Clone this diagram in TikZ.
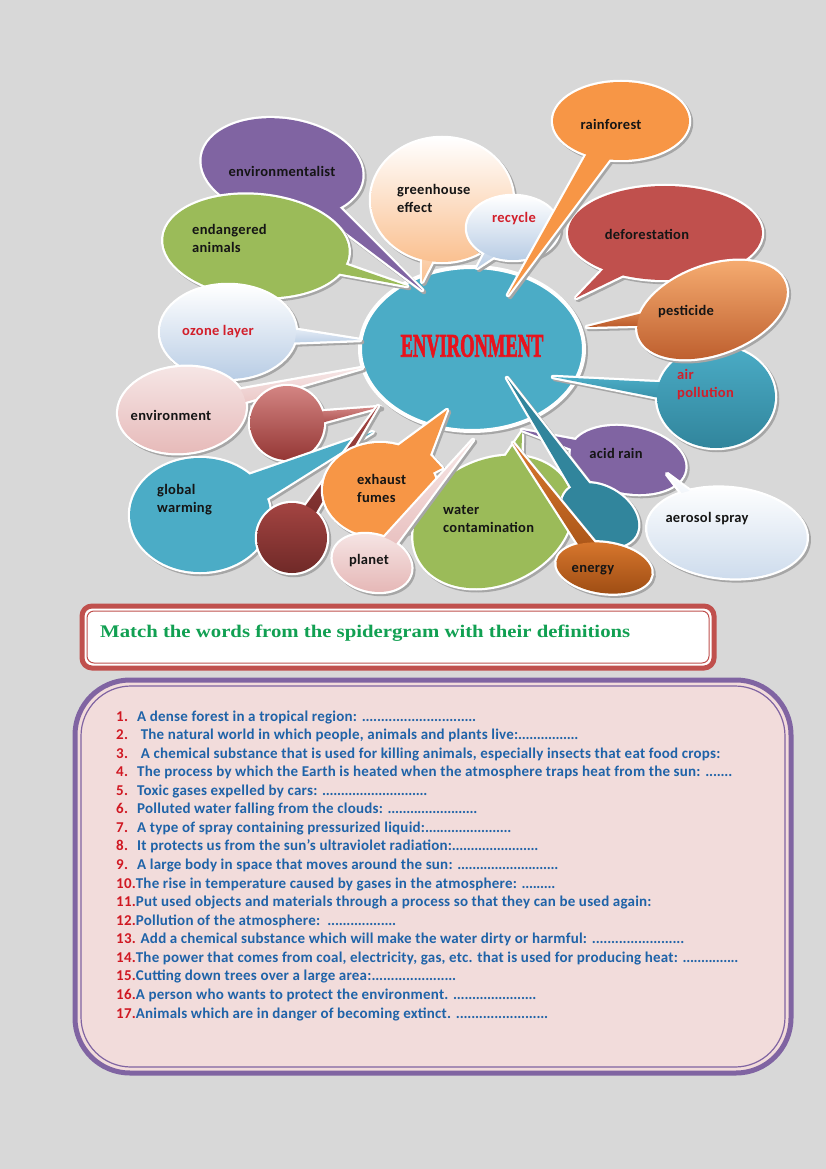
\documentclass[tikz,border=0pt]{standalone}
\usepackage{fontspec}
\usepackage{graphicx}
\setmainfont{Carlito}
\newfontfamily\itemfnt{Carlito}[LetterSpace=1.5]
\newfontfamily\labfnt{Carlito}[LetterSpace=2]
\newfontfamily\serfnt{Liberation Serif}
\newfontfamily\envfnt{Liberation Serif}[FakeBold=2.5]
\usetikzlibrary{calc}
\definecolor{bg}{HTML}{D8D8D8}
\definecolor{purp}{HTML}{8064A2}
\definecolor{grn}{HTML}{9BBB59}
\definecolor{org}{HTML}{F79646}
\definecolor{redb}{HTML}{C0504D}
\definecolor{teal}{HTML}{4BACC6}
\definecolor{dteal}{HTML}{31859C}
\definecolor{peach}{HTML}{FAC090}
\definecolor{lblue}{HTML}{B9CDE5}
\definecolor{pinkb}{HTML}{E6B9B8}
\definecolor{dred}{HTML}{953735}
\definecolor{brownl}{HTML}{D9782E}
\definecolor{brownd}{HTML}{A04E14}
\definecolor{labblk}{HTML}{151515}
\definecolor{labred}{HTML}{D21E2A}
\definecolor{envred}{HTML}{E8121C}
\definecolor{itemblue}{HTML}{1F63A8}
\definecolor{numred}{HTML}{D01822}
\definecolor{titgreen}{HTML}{11A052}
\definecolor{boxpink}{HTML}{F2DCDB}
\tikzset{
  bubout/.style={fill=white,draw=white,line width=4.5pt,line join=round},
  bubshad/.style={fill=black!35,draw=black!35,line width=4.5pt,line join=round},
  lab/.style={font=\fontsize{14.5}{18}\labfnt\bfseries,text=labblk,inner sep=0pt,align=left},
  labr/.style={lab,text=labred},
  item/.style={anchor=base west,inner sep=0pt,font=\fontsize{15}{18}\itemfnt\bfseries,text=itemblue},
}
\newcommand\bubgen[6]{%
  \begin{scope}[shift={(2,2)}]
    \path[bubshad] #6;
    \path[bubshad,rotate around={#5:(#2)}] (#2) ellipse [x radius=#3pt,y radius=#4pt];
  \end{scope}
  \path[bubout] #6;
  \path[bubout,rotate around={#5:(#2)}] (#2) ellipse [x radius=#3pt,y radius=#4pt];
  \path[#1] #6;
  \path[#1,rotate around={#5:(#2)}] (#2) ellipse [x radius=#3pt,y radius=#4pt];
}
\newcommand\bubble[7]{\bubgen{#1}{#2}{#3}{#4}{#5}{($(#2)!#7!90:(#6)$) -- (#6) -- ($(#2)!#7!-90:(#6)$) -- cycle}}
\newcommand\dts{\xleaders\hbox to 3.7pt{\hss.\hss}\hfill}
\newcommand\num[1]{\textcolor{numred}{#1}}
\begin{document}
\begin{tikzpicture}[x=1pt,y=-1pt]
\useasboundingbox (0,0) rectangle (826,1169);
\fill[bg] (0,0) rectangle (826,1169);

% central ellipse
\fill[black!35] (474,351) ellipse [x radius=114pt,y radius=84pt];
\path[fill=teal,draw=white,line width=4pt] (472,349) ellipse [x radius=112pt,y radius=82pt];

% bubbles, back to front
\bubble{fill=purp}{282,168}{81}{49}{-8}{422,290}{13pt}
\bubble{fill=grn}{256,246}{93}{51}{-5}{407,286}{12pt}
\bubble{top color=white,bottom color=lblue}{228,332}{68}{47}{0}{360,340}{13pt}
\bubble{top color=pinkb!35!white,bottom color=pinkb}{182,410}{64}{43}{5}{362,368}{10pt}
\bubble{top color=redb!70!white,bottom color=dred}{287,423}{37}{37}{0}{380,407}{9pt}
\bubble{fill=teal}{200,515}{70}{57}{0}{373,432}{22pt}
\bubble{top color=redb!85!black,bottom color=dred!75!black}{292,538}{35}{35}{0}{378,406}{8pt}
\bubgen{fill=org}{380,490}{57}{47}{0}{(350,450) -- (398,446) -- (447,410) -- (430,455) -- (442,468) -- (415,482) -- cycle}
\bubble{fill=grn}{493,522}{83}{62}{25}{522,432}{28pt}
\bubble{top color=pinkb!35!white,bottom color=pinkb}{372,563}{40}{28}{-15}{473,440}{8pt}
\bubble{top color=white,bottom color=peach}{442,200}{71}{62}{0}{422,282}{20pt}
\bubble{top color=white,bottom color=lblue}{513,228}{46}{32}{0}{477,268}{14pt}
\bubble{fill=redb}{665,233}{97}{47}{0}{576,298}{20pt}
\bubble{fill=org}{621,121}{68}{39}{0}{508,295}{14pt}
\bubble{top color=teal,bottom color=dteal}{716,397}{59}{51}{0}{553,377}{12pt}
\bubble{top color=org!75!white,bottom color=org!80!red!75!black}{712,310}{78}{44}{20}{587,327}{14pt}
\bubble{fill=purp}{628,460}{58}{33}{-10}{522,430}{10pt}
\bubble{top color=white,bottom color=lblue!70}{727,533}{80}{45}{-5}{667,474}{12pt}
\bubble{fill=dteal}{600,515}{41}{28}{-30}{507,378}{11pt}
\bubble{top color=brownl,bottom color=brownd}{604,568}{48}{25}{-8}{513,443}{9pt}

% labels
\node (env) at (472,346) {\scalebox{0.56}[1]{\fontsize{33}{33}\envfnt\bfseries\color{envred}ENVIRONMENT}};
\node[lab] (l1) at (282,171) {environmentalist};
\node[lab,anchor=west] (l2) at (192,238) {endangered\\animals};
\node[lab,anchor=west] (l3) at (397,198) {greenhouse\\effect};
\node[labr] (l4) at (514,219) {recycle};
\node[lab] (l5) at (611,124) {rainforest};
\node[lab] (l6) at (647,234) {deforestation};
\node[lab] (l7) at (686,312) {pesticide};
\node[labr,anchor=west] (l8) at (677,385) {air\\pollution};
\node[lab] (l9) at (616,453) {acid rain};
\node[lab] (l10) at (707,519) {aerosol spray};
\node[lab] (l11) at (593,570) {energy};
\node[lab,anchor=west] (l12) at (443,519) {water\\contamination};
\node[lab,anchor=west] (l13) at (357,488) {exhaust\\fumes};
\node[lab] (l14) at (369,561) {planet};
\node[lab,anchor=west] (l15) at (157,500) {global\\warming};
\node[lab] (l16) at (171,415) {environment};
\node[labr] (l17) at (218,332) {ozone layer};

% title box
\draw[redb,line width=5pt,fill=white,rounded corners=10pt] (82,606) rectangle (714,668);
\draw[redb,line width=1pt,rounded corners=7pt] (87,611) rectangle (709,663);
\node[anchor=base west,inner sep=0pt,text=titgreen] (title) at (100,637) {\resizebox{530pt}{12.5pt}{\fontsize{18}{18}\serfnt\bfseries Match the words from the spidergram with their\ definitions}};

% list box
\draw[purp,line width=5pt,fill=boxpink,rounded corners=55pt] (75,680) rectangle (791,1073);
\draw[purp,line width=1.2pt,rounded corners=50pt] (81,686) rectangle (785,1067);

\node[item] (i1) at (116,721.0) {\makebox[360pt][l]{\makebox[21pt][l]{\num{1.}}A dense forest in a tropical region: \dts}};
\node[item] (i2) at (116,739.6) {\makebox[462pt][l]{\makebox[21pt][l]{\num{2.}} The natural world in which people, animals and plants live:\dts}};
\node[item] (i3) at (116,758.1) {\makebox[21pt][l]{\num{3.}}\ A chemical substance that is used for killing animals, especially insects that eat food crops:};
\node[item] (i4) at (116,776.7) {\makebox[616pt][l]{\makebox[21pt][l]{\num{4.}}The process by which the Earth is heated when the atmosphere traps heat from the sun: \dts}};
\node[item] (i5) at (116,795.2) {\makebox[311pt][l]{\makebox[21pt][l]{\num{5.}}Toxic gases expelled by cars: \dts}};
\node[item] (i6) at (116,813.8) {\makebox[361pt][l]{\makebox[21pt][l]{\num{6.}}Polluted water falling from the clouds: \dts}};
\node[item] (i7) at (116,832.4) {\makebox[395pt][l]{\makebox[21pt][l]{\num{7.}}A type of spray containing pressurized liquid:\dts}};
\node[item] (i8) at (116,850.9) {\makebox[422pt][l]{\makebox[21pt][l]{\num{8.}}It protects us from the sun’s ultraviolet radiation:\dts}};
\node[item] (i9) at (116,869.5) {\makebox[442pt][l]{\makebox[21pt][l]{\num{9.}}A large body in space that moves around the sun: \dts}};
\node[item] (i10) at (116,888.0) {\makebox[439pt][l]{\num{10.}The rise in temperature caused by gases in the atmosphere: \dts}};
\node[item] (i11) at (116,906.6) {\num{11.}Put used objects and materials through a process so that they can be used again:};
\node[item] (i12) at (116,925.2) {\makebox[280pt][l]{\num{12.}Pollution of the atmosphere:\ \ \dts}};
\node[item] (i13) at (116,943.7) {\makebox[568pt][l]{\num{13.} Add a chemical substance which will make the water dirty or harmful: \dts}};
\node[item] (i14) at (116,962.3) {\makebox[622pt][l]{\num{14.}The power that comes from coal, electricity, gas, etc. that is used for producing heat: \dts}};
\node[item] (i15) at (116,980.8) {\makebox[340pt][l]{\num{15.}Cutting down trees over a large area:\dts}};
\node[item] (i16) at (116,999.4) {\makebox[420pt][l]{\num{16.}A person who wants to protect the environment. \dts}};
\node[item] (i17) at (116,1018.0) {\makebox[432pt][l]{\num{17.}Animals which are in danger of becoming extinct. \dts}};
\end{tikzpicture}
\end{document}
